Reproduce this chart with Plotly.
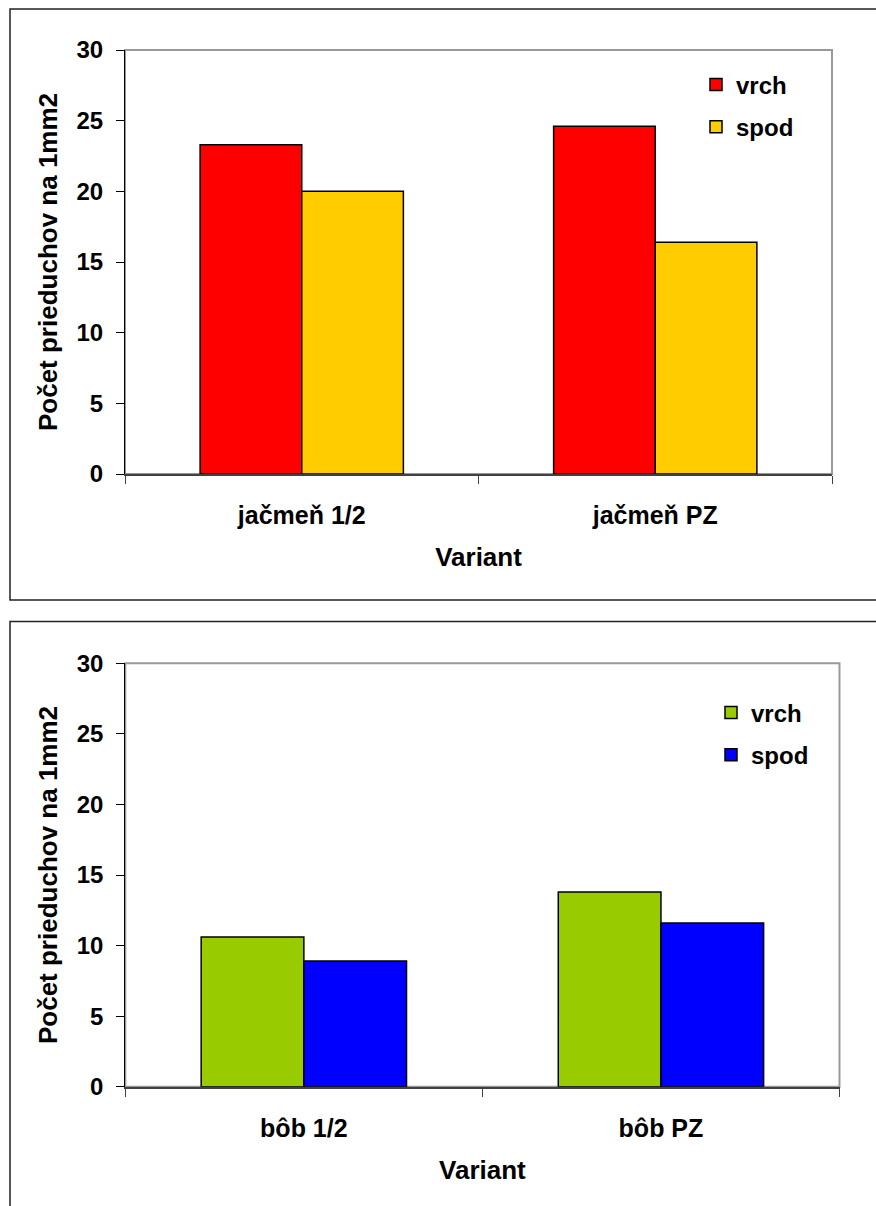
import plotly.graph_objects as go

# Stomata counts per 1 mm2 (upper / lower leaf side)
top_categories = ["jačmeň 1/2", "jačmeň PZ"]
top_vrch = [23.3, 24.6]
top_spod = [20.0, 16.4]

bottom_categories = ["bôb 1/2", "bôb PZ"]
bottom_vrch = [10.6, 13.8]
bottom_spod = [8.9, 11.6]

series_names = ["vrch", "spod"]
y_ticks = [0, 5, 10, 15, 20, 25, 30]

W, H = 876, 1206
FONT = "Liberation Sans, Arial, sans-serif"


def px_x(x):
    return x / W


def px_y(y):
    return 1 - y / H


fig = go.Figure()

fig.add_trace(go.Bar(x=top_categories, y=top_vrch, name=series_names[0],
                     marker=dict(color="#FF0000", line=dict(color="black", width=1.5)),
                     xaxis="x", yaxis="y", legend="legend", legendgroup="a"))
fig.add_trace(go.Bar(x=top_categories, y=top_spod, name=series_names[1],
                     marker=dict(color="#FFCC00", line=dict(color="black", width=1.5)),
                     xaxis="x", yaxis="y", legend="legend", legendgroup="b"))
fig.add_trace(go.Bar(x=bottom_categories, y=bottom_vrch, name=series_names[0],
                     marker=dict(color="#99CC00", line=dict(color="black", width=1.5)),
                     xaxis="x2", yaxis="y2", legend="legend2", legendgroup="c"))
fig.add_trace(go.Bar(x=bottom_categories, y=bottom_spod, name=series_names[1],
                     marker=dict(color="#0000FF", line=dict(color="black", width=1.5)),
                     xaxis="x2", yaxis="y2", legend="legend2", legendgroup="d"))

tick_font = dict(family=FONT, size=24, color="black", weight="bold")
cat_font = dict(family=FONT, size=25, color="black", weight="bold")
title_font = dict(family=FONT, size=26, color="black", weight="bold")


def xaxis_cfg(domain, anchor):
    return dict(domain=domain, anchor=anchor, type="category", automargin=False,
                showline=True, linecolor="#404040", linewidth=2,
                ticks="outside", tickson="boundaries", ticklen=8, tickcolor="#404040",
                tickwidth=1, tickfont=cat_font, ticklabelstandoff=18,
                showgrid=False, zeroline=False,
                title=dict(text="Variant", font=title_font, standoff=20))


def yaxis_cfg(domain, anchor):
    return dict(domain=domain, anchor=anchor, range=[0, 30], automargin=False,
                tickvals=y_ticks, ticktext=[str(v) for v in y_ticks],
                showline=True, linecolor="black", linewidth=1.2,
                ticks="outside", ticklen=8, tickcolor="black", tickwidth=1,
                tickfont=tick_font, ticklabelstandoff=8,
                showgrid=False, zeroline=False,
                title=dict(text="Počet prieduchov na 1mm2", font=title_font, standoff=11))


top_x = [px_x(125), px_x(832)]
top_y = [px_y(474), px_y(50)]
bot_x = [px_x(125.3), px_x(839.5)]
bot_y = [px_y(1086.7), px_y(663.3)]

legend_common = dict(xanchor="left", yanchor="top", bgcolor="rgba(0,0,0,0)",
                     font=dict(family=FONT, size=24, color="black", weight="bold"),
                     tracegroupgap=8, itemwidth=30, borderwidth=0)

fig.update_layout(
    width=W, height=H,
    margin=dict(l=0, r=0, t=0, b=0, pad=0, autoexpand=False),
    paper_bgcolor="white", plot_bgcolor="white",
    barmode="group", bargap=0.425, bargroupgap=0,
    showlegend=True,
    xaxis=xaxis_cfg(top_x, "y"),
    yaxis=yaxis_cfg(top_y, "x"),
    xaxis2=xaxis_cfg(bot_x, "y2"),
    yaxis2=yaxis_cfg(bot_y, "x2"),
    legend=dict(x=px_x(696), y=px_y(62.5), **legend_common),
    legend2=dict(x=px_x(711), y=px_y(690.5), **legend_common),
)

shapes = []
# grey plot-area outlines
for xr, yr in (("x domain", "y domain"), ("x2 domain", "y2 domain")):
    shapes.append(dict(type="rect", xref=xr, yref=yr, x0=0, x1=1, y0=0, y1=1,
                       line=dict(color="#999999", width=2), layer="below"))
# chart frames
shapes.append(dict(type="rect", xref="paper", yref="paper",
                   x0=px_x(10), x1=px_x(900), y0=px_y(600), y1=px_y(9),
                   line=dict(color="#222222", width=1.5), layer="below"))
shapes.append(dict(type="rect", xref="paper", yref="paper",
                   x0=px_x(10), x1=px_x(900), y0=px_y(1230), y1=px_y(621.5),
                   line=dict(color="#222222", width=1.5), layer="below"))
fig.update_layout(shapes=shapes)

fig.write_html("out.html")
